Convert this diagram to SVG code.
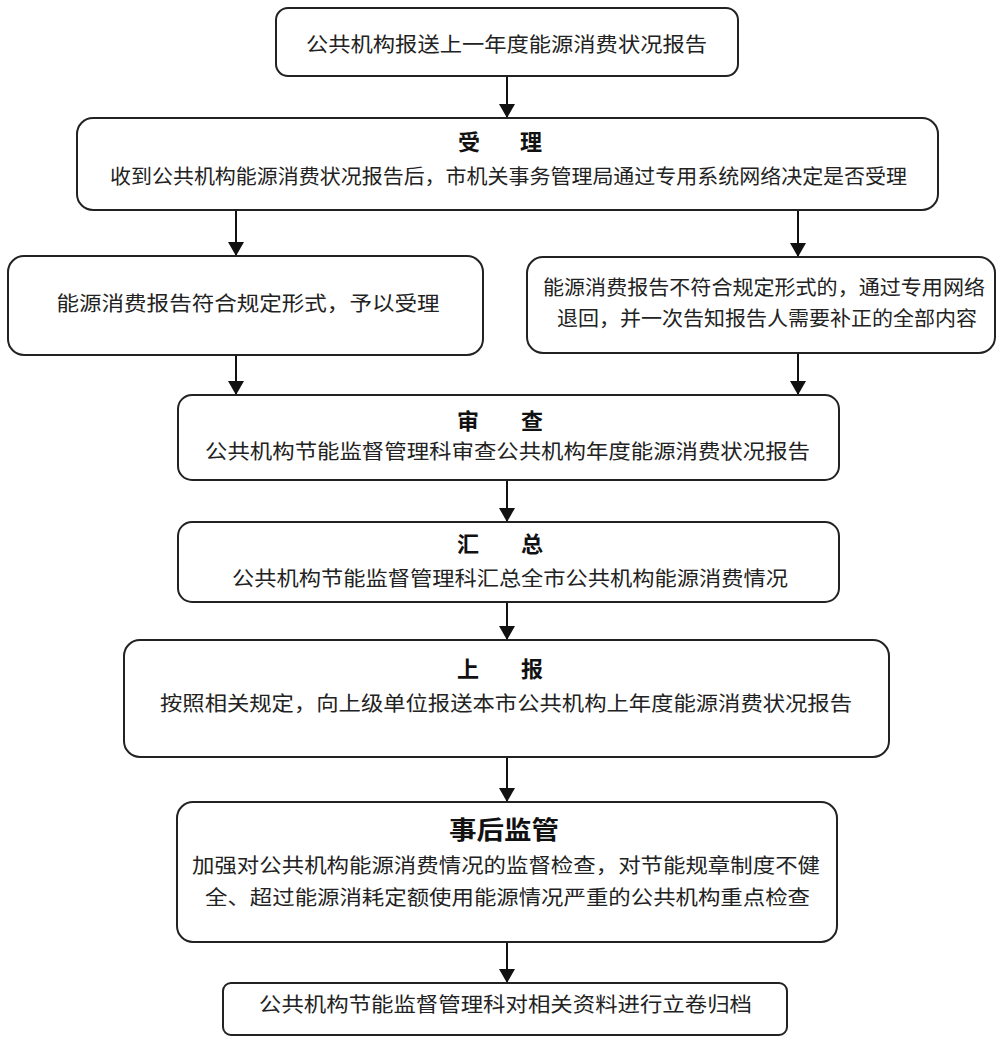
<svg xmlns="http://www.w3.org/2000/svg" width="997" height="1039" viewBox="0 0 997 1039">
<style>
.box{fill:#fff;stroke:#222;stroke-width:2}
.t{font-family:"Noto Sans CJK SC","Noto Sans CJK TC",sans-serif;font-size:20px;fill:#222;text-anchor:middle;dominant-baseline:central}
.h{font-family:"Noto Sans CJK SC","Noto Sans CJK TC",sans-serif;font-size:22px;font-weight:bold;fill:#111;text-anchor:middle;dominant-baseline:central}
.c{stroke:#111;stroke-width:2;fill:none}
</style>
<defs>
<marker id="ah" markerWidth="7" markerHeight="8" refX="6.5" refY="4" orient="auto" markerUnits="strokeWidth"><path d="M0,0 L7,4 L0,8 z" fill="#111"/></marker>
</defs>
<rect width="997" height="1039" fill="#fff"/>
<g id="connectors">
<line class="c" x1="507" y1="76" x2="507" y2="117" marker-end="url(#ah)"/>
<line class="c" x1="236" y1="210" x2="236" y2="255" marker-end="url(#ah)"/>
<line class="c" x1="798" y1="210" x2="798" y2="256" marker-end="url(#ah)"/>
<line class="c" x1="236" y1="355" x2="236" y2="394" marker-end="url(#ah)"/>
<line class="c" x1="798" y1="353" x2="798" y2="394" marker-end="url(#ah)"/>
<line class="c" x1="507" y1="480" x2="507" y2="521" marker-end="url(#ah)"/>
<line class="c" x1="507" y1="602" x2="507" y2="639" marker-end="url(#ah)"/>
<line class="c" x1="507" y1="757" x2="507" y2="801" marker-end="url(#ah)"/>
<line class="c" x1="507" y1="942" x2="507" y2="982" marker-end="url(#ah)"/>
</g>
<g id="n1">
<rect class="box" x="276" y="8" width="462" height="68" rx="12"/>
<text class="t" x="506.5" y="43" textLength="401" lengthAdjust="spacingAndGlyphs">公共机构报送上一年度能源消费状况报告</text>
</g>
<g id="n2">
<rect class="box" x="77" y="118" width="861" height="92" rx="16"/>
<text class="h" x="500" y="140" textLength="84" lengthAdjust="spacing">受 理</text>
<text class="t" x="508.5" y="175" textLength="797" lengthAdjust="spacingAndGlyphs">收到公共机构能源消费状况报告后，市机关事务管理局通过专用系统网络决定是否受理</text>
</g>
<g id="n3">
<rect class="box" x="8" y="256" width="475" height="99" rx="16"/>
<text class="t" x="248" y="302" textLength="383" lengthAdjust="spacingAndGlyphs">能源消费报告符合规定形式，予以受理</text>
</g>
<g id="n4">
<rect class="box" x="527" y="257" width="468" height="96" rx="16"/>
<text class="t" x="764" y="286" textLength="442" lengthAdjust="spacingAndGlyphs">能源消费报告不符合规定形式的，通过专用网络</text>
<text class="t" x="767" y="317" textLength="420" lengthAdjust="spacingAndGlyphs">退回，并一次告知报告人需要补正的全部内容</text>
</g>
<g id="n5">
<rect class="box" x="178" y="395" width="661" height="85" rx="14"/>
<text class="h" x="500" y="419" textLength="86" lengthAdjust="spacing">审 查</text>
<text class="t" x="507.5" y="450" textLength="605" lengthAdjust="spacingAndGlyphs">公共机构节能监督管理科审查公共机构年度能源消费状况报告</text>
</g>
<g id="n6">
<rect class="box" x="178" y="522" width="661" height="80" rx="14"/>
<text class="h" x="500" y="542" textLength="86" lengthAdjust="spacing">汇 总</text>
<text class="t" x="510" y="577" textLength="556" lengthAdjust="spacingAndGlyphs">公共机构节能监督管理科汇总全市公共机构能源消费情况</text>
</g>
<g id="n7">
<rect class="box" x="124" y="640" width="765" height="117" rx="16"/>
<text class="h" x="500" y="667" textLength="86" lengthAdjust="spacing">上 报</text>
<text class="t" x="506" y="702" textLength="692" lengthAdjust="spacingAndGlyphs">按照相关规定，向上级单位报送本市公共机构上年度能源消费状况报告</text>
</g>
<g id="n8">
<rect class="box" x="177" y="802" width="660" height="140" rx="16"/>
<text class="h" x="504" y="828" style="font-size:25px" textLength="110" lengthAdjust="spacingAndGlyphs">事后监管</text>
<text class="t" x="506" y="864" textLength="628" lengthAdjust="spacingAndGlyphs">加强对公共机构能源消费情况的监督检查，对节能规章制度不健</text>
<text class="t" x="507.5" y="896" textLength="605" lengthAdjust="spacingAndGlyphs">全、超过能源消耗定额使用能源情况严重的公共机构重点检查</text>
</g>
<g id="n9">
<rect class="box" x="223" y="983" width="564" height="52" rx="8"/>
<text class="t" x="505.5" y="1003" textLength="493" lengthAdjust="spacingAndGlyphs">公共机构节能监督管理科对相关资料进行立卷归档</text>
</g>
</svg>
